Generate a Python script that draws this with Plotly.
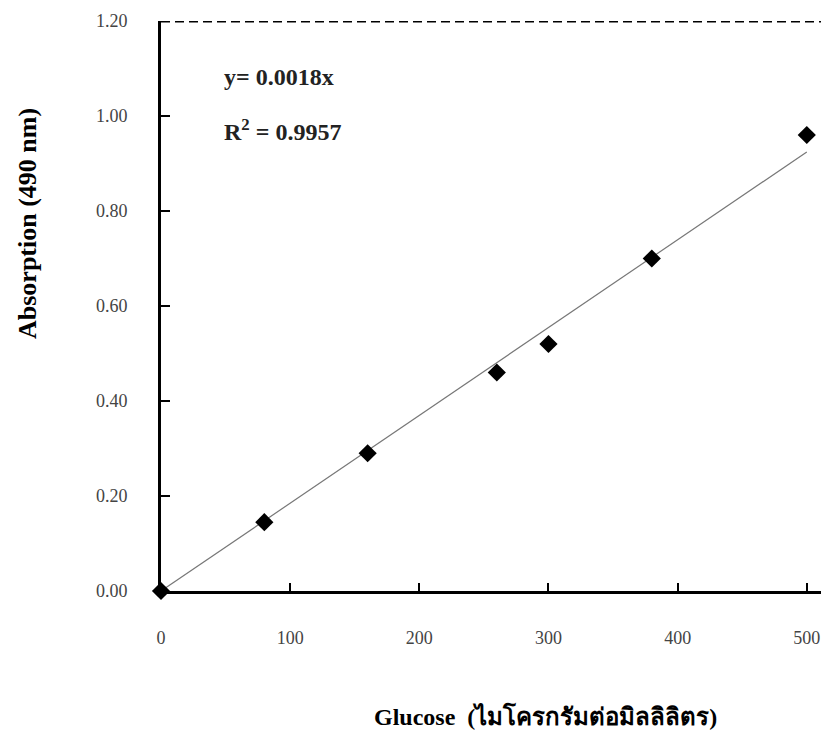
import plotly.graph_objects as go
import numpy as np

glucose = [0, 80, 160, 260, 300, 380, 500]
absorption = [0.0, 0.145, 0.29, 0.46, 0.52, 0.70, 0.96]
x_ticks = [0, 100, 200, 300, 400, 500]
y_ticks = [0.0, 0.2, 0.4, 0.6, 0.8, 1.0, 1.2]
y_tick_labels = ["0.00", "0.20", "0.40", "0.60", "0.80", "1.00", "1.20"]
eq_text = "y= 0.0018x"
r2_text = "R<sup>2</sup> = 0.9957"
x_title = "Glucose  (ไมโครกรัมต่อมิลลิลิตร)"
y_title = "Absorption (490 nm)"

xa = np.array(glucose, dtype=float)
ya = np.array(absorption, dtype=float)
slope = float((xa * ya).sum() / (xa * xa).sum())
line_x = [0, 500]
line_y = [slope * v for v in line_x]

serif = "Liberation Serif, Times New Roman, serif"

fig = go.Figure()
fig.add_trace(go.Scatter(x=line_x, y=line_y, mode="lines",
                         line=dict(color="#777777", width=1.2),
                         hoverinfo="skip", showlegend=False))
fig.add_trace(go.Scatter(x=glucose, y=absorption, mode="markers",
                         marker=dict(symbol="diamond", size=14, color="black"),
                         cliponaxis=False, showlegend=False))

fig.update_layout(
    width=821, height=740,
    margin=dict(l=161, r=0, t=21, b=149),
    plot_bgcolor="white", paper_bgcolor="white",
    font=dict(family=serif, color="#333333"),
    xaxis=dict(range=[0, 511], tickvals=x_ticks, ticks="inside", ticklen=8,
               tickwidth=2, tickcolor="black", showline=True, linewidth=3,
               linecolor="black", showgrid=False, zeroline=False,
               tickfont=dict(family=serif, size=18, color="#444444"),
               ticklabelstandoff=28),
    yaxis=dict(range=[0, 1.2], tickvals=y_ticks, ticktext=y_tick_labels,
               ticks="inside", ticklen=9, tickwidth=2, tickcolor="black",
               showline=True, linewidth=3, linecolor="black",
               showgrid=False, zeroline=False,
               tickfont=dict(family=serif, size=18, color="#444444"),
               ticklabelstandoff=27),
    shapes=[dict(type="line", xref="paper", yref="y", x0=0, x1=1, y0=1.2, y1=1.2,
                 line=dict(color="black", width=3, dash="9px,5px"))],
    annotations=[
        dict(text="<b>" + eq_text + "</b>", xref="paper", yref="paper",
             x=(222 - 161) / 660, y=(591 - 77) / 570, xanchor="left", yanchor="middle",
             showarrow=False, font=dict(family=serif, size=24, color="#222222")),
        dict(text="<b>" + r2_text + "</b>", xref="paper", yref="paper",
             x=(222 - 161) / 660, y=(591 - 130) / 570, xanchor="left", yanchor="middle",
             showarrow=False, font=dict(family=serif, size=24, color="#222222")),
        dict(text="<b>" + x_title + "</b>", xref="paper", yref="paper",
             x=(545 - 161) / 660, y=(591 - 716) / 570, xanchor="center", yanchor="middle",
             showarrow=False, font=dict(family=serif, size=24, color="black")),
        dict(text="<b>" + y_title + "</b>", xref="paper", yref="paper",
             x=(27 - 161) / 660, y=(591 - 224) / 570, xanchor="center", yanchor="middle",
             textangle=-90, showarrow=False, font=dict(family=serif, size=26, color="black")),
    ],
)

fig.write_html("out.html")
